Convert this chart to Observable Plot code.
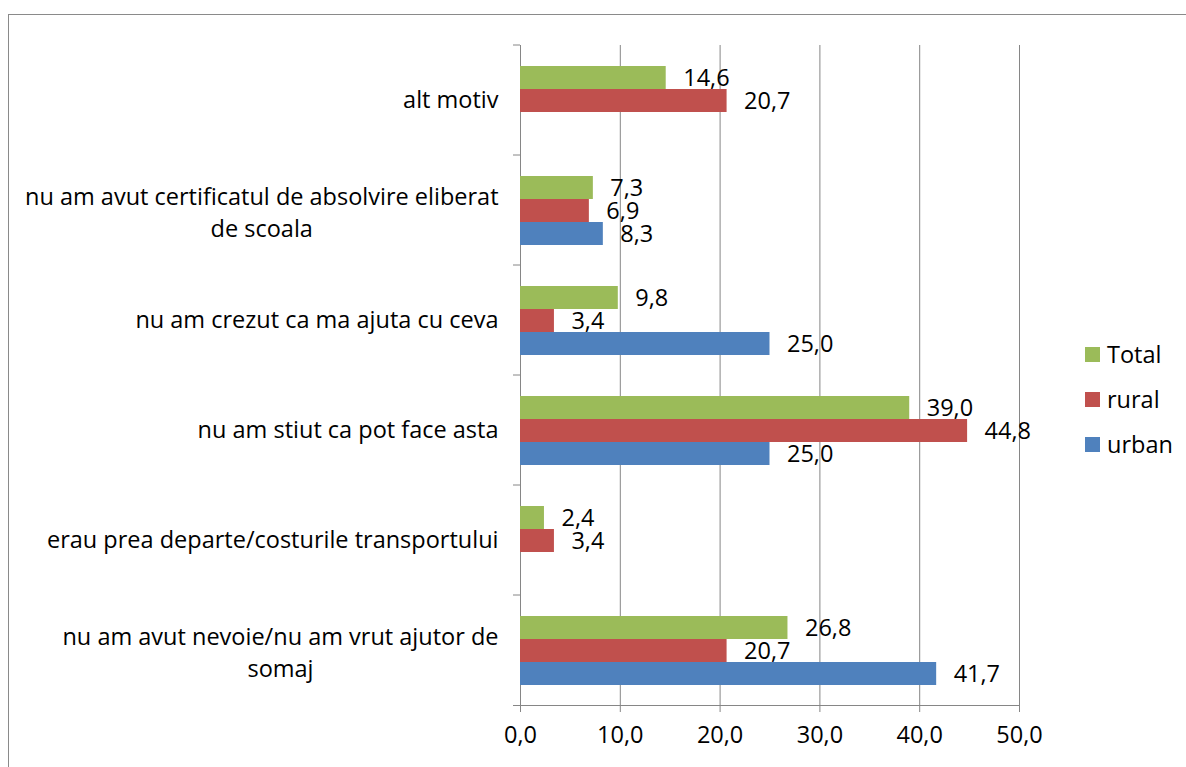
<!DOCTYPE html>
<html>
<head>
<meta charset="utf-8">
<script src="https://cdn.jsdelivr.net/npm/d3@7"></script>
<script src="https://cdn.jsdelivr.net/npm/@observablehq/plot@0.6"></script>
<style>
  html, body { margin: 0; padding: 0; background: #fff; overflow: hidden; }
  #wrap { position: relative; width: 1186px; height: 767px; overflow: hidden; }
  #chart { position: absolute; left: 0; top: 0; }
  #border { position: absolute; left: 8px; top: 14px; width: 1300px; height: 900px;
            border: 1.5px solid #8a8a8a; box-sizing: border-box; pointer-events: none; }
  #legend { position: absolute; left: 1085px; top: 341px; display: flex; flex-direction: column;
            gap: 19px; font-family: "Open Sans", sans-serif; font-size: 23.5px; color: #000; }
  #legend .item { display: flex; align-items: center; height: 26px; }
  #legend .sw { width: 15px; height: 15px; margin-right: 7px; }
</style>
</head>
<body>
<div id="wrap">
  <div id="chart"></div>
  <div id="legend"></div>
  <div id="border"></div>
</div>
<script>
// ---- data ----
const categories = [
  "alt motiv",
  "nu am avut certificatul de absolvire eliberat de scoala",
  "nu am crezut ca ma ajuta cu ceva",
  "nu am stiut ca pot face asta",
  "erau prea departe/costurile transportului",
  "nu am avut nevoie/nu am vrut ajutor de somaj"
];
const categoryLabels = [
  "alt motiv",
  "nu am avut certificatul de absolvire eliberat\nde scoala",
  "nu am crezut ca ma ajuta cu ceva",
  "nu am stiut ca pot face asta",
  "erau prea departe/costurile transportului",
  "nu am avut nevoie/nu am vrut ajutor de\nsomaj"
];
const series = ["Total", "rural", "urban"];
const totalValues = [14.6, 7.3, 9.8, 39.0, 2.4, 26.8];
const ruralValues = [20.7, 6.9, 3.4, 44.8, 3.4, 20.7];
const urbanValues = [null, 8.3, 25.0, 25.0, null, 41.7];
const seriesColors = ["#9BBB59", "#C0504D", "#4F81BD"];
const xTicks = [0, 10, 20, 30, 40, 50];

// ---- build table ----
const valuesBySeries = [totalValues, ruralValues, urbanValues];
const rows = [];
categories.forEach((c, i) => {
  series.forEach((s, j) => {
    const v = valuesBySeries[j][i];
    if (v != null) rows.push({category: c, series: s, value: v});
  });
});
const fmt = (v) => v.toFixed(1).replace(".", ",");
const labelOf = new Map(categories.map((c, i) => [c, categoryLabels[i]]));

const FONT = "Open Sans";
const FS = 23.5;
const GRID = "#868686";

// measure first line of wrapped labels to center lines under each other
const ctx = document.createElement("canvas").getContext("2d");
ctx.font = `${FS}px "${FONT}"`;
const labelPad = 22;
const single = categories.filter((c) => !labelOf.get(c).includes("\n"));
const wrapped = categories.filter((c) => labelOf.get(c).includes("\n"));

const labelAxes = [
  Plot.axisFy({ticks: single, anchor: "left", tickSize: 0, tickPadding: labelPad,
    tickFormat: (d) => labelOf.get(d), fontSize: FS, color: "#000", label: null})
];
for (const c of wrapped) {
  const first = labelOf.get(c).split("\n")[0];
  const w = ctx.measureText(first).width;
  labelAxes.push(Plot.axisFy({ticks: [c], anchor: "left", tickSize: 0, tickPadding: labelPad + w / 2,
    textAnchor: "middle", lineHeight: 1.36,
    tickFormat: (d) => labelOf.get(d), fontSize: FS, color: "#000", label: null}));
}

// small tick marks on the category axis at each group boundary
const groupTicks = (index, scales) => {
  const g = d3.create("svg:g");
  const r = scales.y.range();
  const y0 = Math.min(r[0], r[1]);
  const x0 = scales.x(0);
  g.append("line").attr("x1", x0 - 7).attr("x2", x0).attr("y1", y0).attr("y2", y0)
    .attr("stroke", GRID).attr("stroke-width", 1);
  return g.node();
};

const chart = Plot.plot({
  width: 1186,
  height: 767,
  marginLeft: 520,
  marginRight: 167,
  marginTop: 42,
  marginBottom: 60,
  style: {fontFamily: FONT, fontSize: FS + "px", color: "#000", background: "transparent"},
  x: {domain: [0, 50], axis: null},
  fy: {domain: categories, padding: 0, axis: null},
  y: {domain: series, paddingInner: 0, paddingOuter: 0.85, axis: null},
  color: {domain: series, range: seriesColors},
  marks: [
    Plot.ruleX(xTicks.filter((d) => d > 0), {stroke: GRID, strokeWidth: 1}),
    Plot.ruleX([0], {stroke: GRID, strokeWidth: 1}),
    Plot.barX(rows, {fy: "category", y: "series", x: "value", fill: "series"}),
    Plot.text(rows, {fy: "category", y: "series", x: "value", text: (d) => fmt(d.value),
      textAnchor: "start", dx: 17, fontSize: FS, fill: "#000"}),
    Plot.frame({anchor: "bottom", facetAnchor: "bottom", insetLeft: -7, stroke: GRID}),
    Plot.axisX({ticks: xTicks, tickSize: 7, tickFormat: () => "", color: GRID, label: null}),
    Plot.axisX({ticks: xTicks, tickSize: 0, tickPadding: 21, tickFormat: fmt, fontSize: FS,
      color: "#000", label: null}),
    ...labelAxes,
    groupTicks
  ]
});
document.getElementById("chart").appendChild(chart);

// legend
const legend = document.getElementById("legend");
series.forEach((s, i) => {
  const item = document.createElement("div");
  item.className = "item";
  const sw = document.createElement("span");
  sw.className = "sw";
  sw.style.background = seriesColors[i];
  const t = document.createElement("span");
  t.textContent = s;
  item.appendChild(sw);
  item.appendChild(t);
  legend.appendChild(item);
});
</script>
</body>
</html>
